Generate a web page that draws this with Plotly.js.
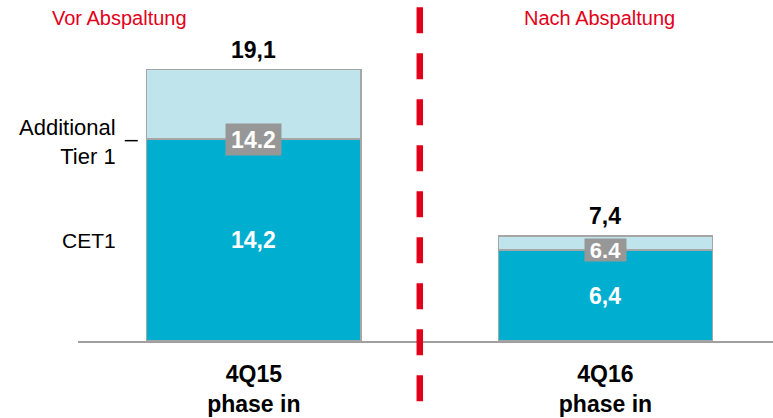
<!DOCTYPE html>
<html>
<head>
<meta charset="utf-8">
<script src="https://cdn.plot.ly/plotly-3.0.1.min.js"></script>
<style>html,body{margin:0;padding:0;background:#fff;}#chart{width:773px;height:418px;}</style>
</head>
<body>
<div id="chart"></div>
<script>
// ---- data ----
const categories = ['4Q15', '4Q16'];
const categoryLabels = ['4Q15<br>phase in', '4Q16<br>phase in'];
const cet1 = [14.2, 6.4];
const at1 = [4.9, 1.0];
const totalLabels = ['19,1', '7,4'];
const cet1Labels = ['14,2', '6,4'];
const boundaryLabels = ['14.2', '6.4'];
const sectionLabels = ['Vor Abspaltung', 'Nach Abspaltung'];
const seriesNames = ['CET1', 'Additional<br>Tier 1'];

const FONT = 'Liberation Sans, Arial, sans-serif';
const RED = '#E2001A';
const OUTLINE = '#A6A6A6';

const totals = cet1.map((v, i) => v + at1[i]);

const traces = [
  {type: 'bar', x: categories, y: cet1, name: 'CET1', width: 0.609,
   marker: {color: '#00AECF', line: {color: OUTLINE, width: 1.5}}, hoverinfo: 'none'},
  {type: 'bar', x: categories, y: at1, name: 'AT1', width: 0.609,
   marker: {color: '#C0E4EC', line: {color: OUTLINE, width: 1.5}}, hoverinfo: 'none'}
];

const annotations = [];
categories.forEach((c, i) => {
  annotations.push({x: c, y: totals[i], xref: 'x', yref: 'y', text: '<b>' + totalLabels[i] + '</b>',
    showarrow: false, yanchor: 'bottom', yshift: 5, font: {family: FONT, size: 23, color: '#000'}});
  annotations.push({x: c, y: cet1[i] / 2, xref: 'x', yref: 'y', text: '<b>' + cet1Labels[i] + '</b>',
    showarrow: false, yanchor: 'middle', font: {family: FONT, size: 23, color: '#fff'}});
  annotations.push({x: c, y: cet1[i], xref: 'x', yref: 'y', text: '<b>' + boundaryLabels[i] + '</b>',
    showarrow: false, yanchor: 'middle', bgcolor: '#979797', borderpad: 0,
    width: i === 0 ? 55 : 41, height: i === 0 ? 31 : 22,
    font: {family: FONT, size: i === 0 ? 23 : 22, color: '#fff'}});
});
// section headers
annotations.push({x: -0.381, y: 22.7, xref: 'x', yref: 'y', text: sectionLabels[0], showarrow: false,
  font: {family: FONT, size: 20, color: RED}});
annotations.push({x: 0.984, y: 22.7, xref: 'x', yref: 'y', text: sectionLabels[1], showarrow: false,
  font: {family: FONT, size: 20, color: RED}});
// series labels on the left
annotations.push({x: -0.387, y: cet1[0] / 2, xref: 'x', yref: 'y', text: seriesNames[0], showarrow: false,
  xanchor: 'right', font: {family: FONT, size: 21, color: '#000'}});
annotations.push({x: -0.387, y: cet1[0], xref: 'x', yref: 'y', text: seriesNames[1], showarrow: false,
  xanchor: 'right', align: 'right', yshift: -3, font: {family: FONT, size: 22, color: '#000'}});

const shapes = [
  {type: 'line', xref: 'x', yref: 'paper', x0: 0.472, x1: 0.472, y0: 0.979, y1: -0.23,
   line: {color: RED, width: 6.5, dash: '26px,20px'}, layer: 'above'},
  {type: 'line', xref: 'x', yref: 'y', x0: -0.367, x1: -0.33, y0: cet1[0] - 0.1, y1: cet1[0] - 0.1,
   line: {color: '#000', width: 1.5}}
];

const layout = {
  width: 773, height: 418,
  margin: {l: 78, r: 0, t: 0, b: 77},
  paper_bgcolor: '#fff', plot_bgcolor: '#fff',
  barmode: 'stack', showlegend: false,
  xaxis: {type: 'category', range: [-0.5, 1.4765], tickvals: categories, ticktext: categoryLabels,
    showline: true, linecolor: '#A0A0A0', linewidth: 2, ticks: '', showgrid: false, zeroline: false,
    tickfont: {family: FONT, size: 23, color: '#000', weight: 'bold'}, ticklabelstandoff: 11, fixedrange: true},
  yaxis: {range: [0, 24], visible: false, showgrid: false, zeroline: false, fixedrange: true},
  annotations: annotations,
  shapes: shapes
};

Plotly.newPlot('chart', traces, layout, {staticPlot: true, displayModeBar: false});
</script>
</body>
</html>
